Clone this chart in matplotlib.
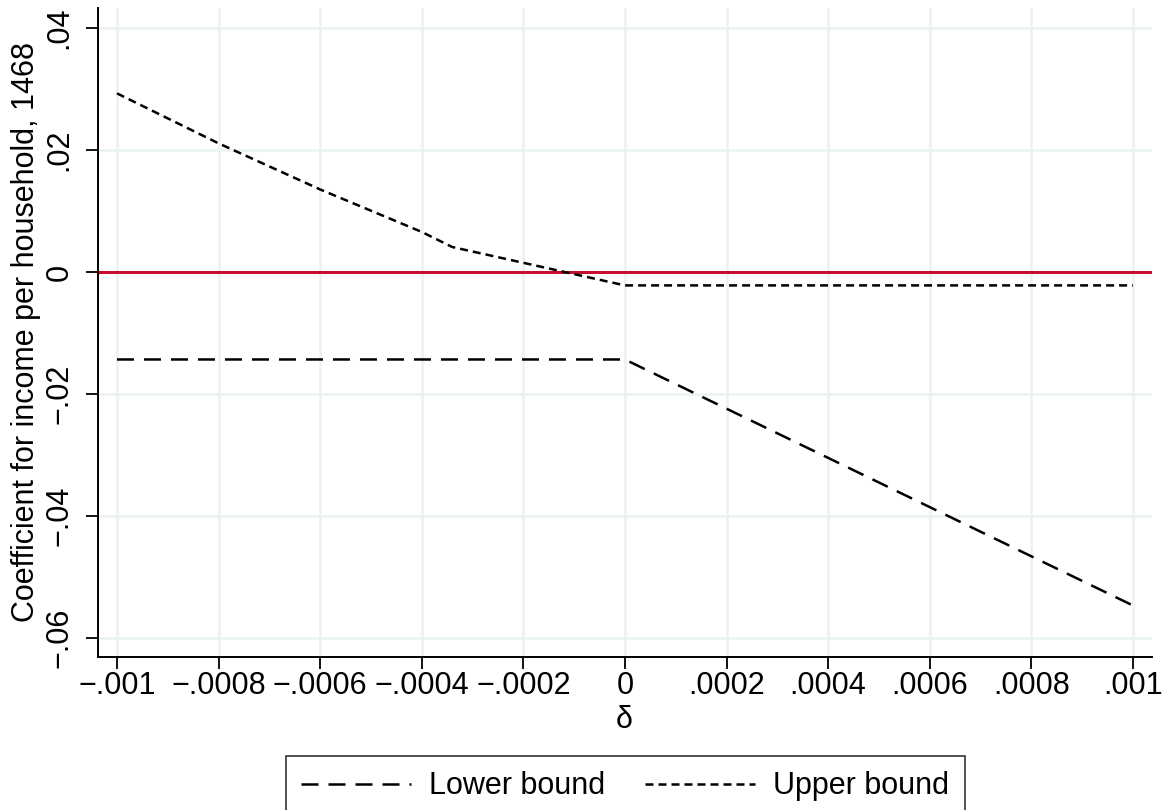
import matplotlib
matplotlib.use("Agg")
import matplotlib.pyplot as plt
from matplotlib.ticker import FixedLocator

plt.rcParams['font.family'] = ['Liberation Sans', 'DejaVu Sans']

# delta grid and bounds
lower_x = [-0.001, 0.0, 0.001]
lower_y = [-0.01435, -0.01435, -0.0547]
upper_x = [-0.001, -0.0008, -0.0006, -0.0004, -0.00034, 0.0, 0.001]
upper_y = [0.0293, 0.0211, 0.01354, 0.00657, 0.0041, -0.0022, -0.0022]

xticks = [-0.001, -0.0008, -0.0006, -0.0004, -0.0002, 0, 0.0002, 0.0004, 0.0006, 0.0008, 0.001]
xlabels = ['\u2212.001', '\u2212.0008', '\u2212.0006', '\u2212.0004', '\u2212.0002', '0',
           '.0002', '.0004', '.0006', '.0008', '.001']
yticks = [-0.06, -0.04, -0.02, 0, 0.02, 0.04]
ylabels = ['\u2212.06', '\u2212.04', '\u2212.02', '0', '.02', '.04']

fs = 22

fig = plt.figure(figsize=(11.64, 8.10), dpi=100)
ax = fig.add_axes([0.0839, 0.1893, 0.9055, 0.8008])

ax.set_xlim(-0.001038, 0.001037)
ax.set_ylim(-0.0631, 0.0433)

ax.xaxis.set_major_locator(FixedLocator(xticks))
ax.yaxis.set_major_locator(FixedLocator(yticks))
ax.set_xticklabels(xlabels)
ax.set_yticklabels(ylabels, rotation=90, va='center')
ax.tick_params(axis='both', direction='out', length=8.5, width=1.3, labelsize=fs)
ax.tick_params(axis='x', pad=1.5)
ax.tick_params(axis='y', pad=8)
ax.grid(True, color='#eaf2f3', linewidth=1.8)
ax.set_axisbelow(True)

for s in ['top', 'right']:
    ax.spines[s].set_visible(False)
for s in ['left', 'bottom']:
    ax.spines[s].set_linewidth(1.4)

ax.axhline(0, color='#c8102e', linewidth=2.2, zorder=2)

lw = 1.8
ax.plot(lower_x, lower_y, color='black', linewidth=lw, dashes=(6.8, 4.0), label='Lower bound', zorder=3)
ax.plot(upper_x, upper_y, color='black', linewidth=lw, dashes=(3.2, 2.0), label='Upper bound', zorder=3)

ax.set_xlabel('\u03b4', fontsize=fs, labelpad=3)
ax.set_ylabel('Coefficient for income per household, 1468', fontsize=fs, labelpad=3)

leg = fig.legend(loc='upper center', bbox_to_anchor=(0.537, 0.0667), ncol=2, fontsize=fs,
                 frameon=True, fancybox=False, edgecolor='black', handlelength=3.6,
                 columnspacing=1.3, borderpad=0.5, handletextpad=0.6, borderaxespad=0)
leg.get_frame().set_linewidth(1.2)

fig.savefig('out.png', dpi=100)
